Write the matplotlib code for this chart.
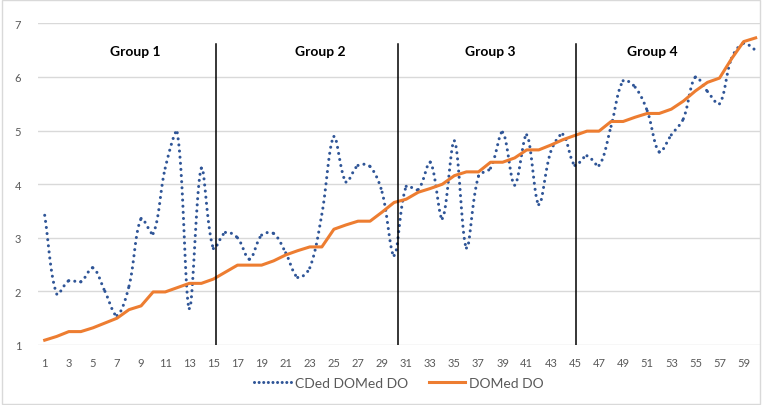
import numpy as np
import matplotlib.pyplot as plt
from matplotlib.lines import Line2D

plt.rcParams['font.family'] = ['Lato', 'DejaVu Sans']

# 60 samples, x axis categories 1..60
samples = list(range(1, 61))

cded_domed_do = [
    3.42, 1.95, 2.20, 2.18, 2.44, 2.00, 1.55, 2.10, 3.36, 3.08,
    4.30, 4.96, 1.68, 4.30, 2.80, 3.10, 3.00, 2.60, 3.05, 3.08,
    2.72, 2.26, 2.44, 3.44, 4.89, 4.04, 4.35, 4.33, 3.85, 2.67,
    3.96, 3.90, 4.41, 3.36, 4.81, 2.81, 4.15, 4.30, 4.97, 3.98,
    4.92, 3.62, 4.61, 4.93, 4.35, 4.53, 4.35, 5.08, 5.93, 5.81,
    5.37, 4.60, 4.92, 5.22, 6.00, 5.73, 5.50, 6.35, 6.63, 6.50,
]

domed_do = [
    1.09, 1.16, 1.25, 1.25, 1.32, 1.41, 1.50, 1.66, 1.73, 1.99,
    1.99, 2.07, 2.15, 2.15, 2.23, 2.36, 2.49, 2.49, 2.49, 2.57,
    2.68, 2.76, 2.83, 2.83, 3.16, 3.24, 3.31, 3.31, 3.48, 3.66,
    3.72, 3.85, 3.92, 4.00, 4.16, 4.23, 4.23, 4.41, 4.41, 4.49,
    4.64, 4.64, 4.73, 4.83, 4.91, 4.99, 4.99, 5.17, 5.17, 5.25,
    5.32, 5.32, 5.40, 5.55, 5.74, 5.90, 5.98, 6.34, 6.66, 6.73,
]

group_names = ['Group 1', 'Group 2', 'Group 3', 'Group 4']
group_label_x = [8.5, 23.85, 37.95, 51.4]
group_breaks = [15.2, 30.3, 45.1]


def smooth_segments(x, y, sx=12.05, sy=53.6, n=24):
    # bezier pieces between neighbouring points, tangents weighted by
    # the on-screen segment lengths (roughly what Excel's smoothing does)
    p = np.column_stack([np.asarray(x, float) * sx, np.asarray(y, float) * sy])
    m = len(p)
    cin = p.copy()
    cout = p.copy()
    for i in range(m):
        a = p[max(i - 1, 0)]
        b = p[min(i + 1, m - 1)]
        la = np.hypot(*(p[i] - a))
        lb = np.hypot(*(b - p[i]))
        if la + lb == 0:
            continue
        d = b - a
        cin[i] = p[i] - d * la / (la + lb) / 3
        cout[i] = p[i] + d * lb / (la + lb) / 3
    t = np.linspace(0, 1, n)[:, None]
    segs = []
    for i in range(m - 1):
        q = ((1 - t) ** 3 * p[i] + 3 * (1 - t) ** 2 * t * cout[i]
             + 3 * (1 - t) * t ** 2 * cin[i + 1] + t ** 3 * p[i + 1])
        segs.append((q[:, 0] / sx, q[:, 1] / sy))
    return segs


fig = plt.figure(figsize=(7.62, 4.06), dpi=100)
ax = fig.add_axes([38 / 762, 60 / 406, 722 / 762, 321.6 / 406])

blue = '#2f5597'
orange = '#ed7d31'
dots = (0, (0.01, 2.0))

for qx, qy in smooth_segments(samples, cded_domed_do):
    ax.plot(qx, qy, color=blue, lw=2.2, linestyle=dots,
            dash_capstyle='round', zorder=3)
ax.plot(samples, domed_do, color=orange, lw=2.2, zorder=4)

for xb in group_breaks:
    ax.plot([xb, xb], [1, 6.62], color='black', lw=1.1, zorder=5)

for name, gx in zip(group_names, group_label_x):
    ax.text(gx, 6.49, name, ha='center', va='center', fontsize=10,
            fontweight='bold', color='black')

ax.set_xlim(0.444, 60.36)
ax.set_ylim(1, 7)
ax.set_yticks(range(1, 8))
ax.set_xticks(samples[::2])
ax.tick_params(length=0, labelsize=8, labelcolor='#595959')
ax.tick_params(axis='x', pad=9)
ax.tick_params(axis='y', pad=12)
ax.grid(axis='y', color='#d9d9d9', lw=1)
ax.set_axisbelow(True)
for s in ax.spines.values():
    s.set_visible(False)

handles = [
    Line2D([], [], color=blue, lw=2.2, linestyle=(0, (0.01, 1.5)),
           dash_capstyle='round'),
    Line2D([], [], color=orange, lw=2.2),
]
fig.legend(handles, ['CDed DOMed DO', 'DOMed DO'], loc='center',
           bbox_to_anchor=(399 / 762, 22 / 406), ncol=2, frameon=False,
           fontsize=10, handlelength=2.6, columnspacing=1.5, handletextpad=0.3,
           labelcolor='#595959')

fig.patches.append(plt.Rectangle((0.002, 0.002), 0.996, 0.996,
                                 transform=fig.transFigure, fill=False,
                                 edgecolor='#d9d9d9', lw=1))

fig.savefig('out.png', dpi=100)
